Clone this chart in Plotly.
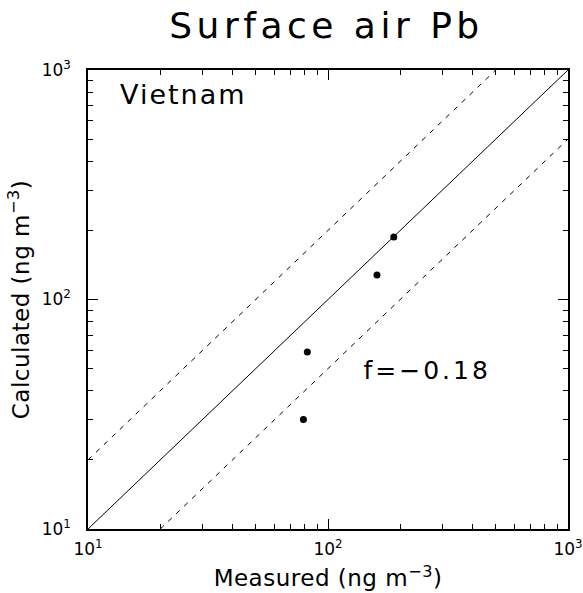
import plotly.graph_objects as go

# Measured vs calculated surface-air lead concentrations (ng m^-3), Vietnam sites
measured = [188, 160, 82, 79]
calculated = [187, 128, 59, 30]

# 1:1 reference line and factor-of-two bounds
ref_x = [10, 1000]
one_to_one = [10, 1000]
upper_x = [10, 500]
upper_y = [20, 1000]
lower_x = [20, 1000]
lower_y = [10, 500]

tick_vals = [10, 100, 1000]
tick_text = ["10<sup>1</sup>", "10<sup>2</sup>", "10<sup>3</sup>"]

font_family = "DejaVu Sans, Liberation Sans, sans-serif"

fig = go.Figure()
fig.add_trace(go.Scatter(x=ref_x, y=one_to_one, mode="lines",
                         line=dict(color="black", width=1), hoverinfo="skip"))
fig.add_trace(go.Scatter(x=upper_x, y=upper_y, mode="lines",
                         line=dict(color="black", width=1, dash="5px,6px"), hoverinfo="skip"))
fig.add_trace(go.Scatter(x=lower_x, y=lower_y, mode="lines",
                         line=dict(color="black", width=1, dash="5px,6px"), hoverinfo="skip"))
fig.add_trace(go.Scatter(x=measured, y=calculated, mode="markers",
                         marker=dict(color="black", size=7)))

axis_common = dict(
    type="log",
    range=[1, 3],
    tickvals=tick_vals,
    ticktext=tick_text,
    ticks="inside",
    ticklen=10,
    tickwidth=1,
    tickcolor="black",
    showline=True,
    linecolor="black",
    linewidth=1.5,
    mirror="allticks",
    showgrid=False,
    zeroline=False,
    automargin=False,
    tickfont=dict(family=font_family, size=17, color="black"),
    minor=dict(ticks="inside", ticklen=5, tickwidth=1, tickcolor="black",
               dtick="D1", showgrid=False),
)

fig.update_xaxes(**axis_common, ticklabelstandoff=4,
                 title=dict(text="Measured (ng m<sup>−3</sup>)", standoff=12,
                            font=dict(family=font_family, size=23, color="black")))
fig.update_yaxes(**axis_common, ticklabelstandoff=12,
                 title=dict(text="Calculated (ng m<sup>−3</sup>)", standoff=6,
                            font=dict(family=font_family, size=23, color="black")))

fig.add_annotation(x=0.077, y=0.985, xref="paper", yref="paper", text="Vietnam",
                   showarrow=False, xanchor="left", yanchor="top",
                   font=dict(family=font_family, size=27, color="black"))
fig.add_annotation(x=0.592, y=0.345, xref="paper", yref="paper", text="f=−0.18",
                   showarrow=False, xanchor="left", yanchor="middle",
                   font=dict(family=font_family, size=25, color="black"))

fig.update_layout(
    width=583,
    height=593,
    margin=dict(l=88, r=15, t=70, b=64, autoexpand=False),
    paper_bgcolor="white",
    plot_bgcolor="white",
    showlegend=False,
    title=dict(text="Surface air Pb", x=0.56, xanchor="center", y=0.958, yanchor="middle",
               font=dict(family=font_family, size=36, color="black")),
)

# widen letter spacing of the titles and annotations
spacing_js = (
    "var s=document.createElement('style');"
    "s.textContent='.gtitle{letter-spacing:4.5px}"
    ".annotation[data-index=\"0\"] .annotation-text{letter-spacing:2px}"
    ".annotation[data-index=\"1\"] .annotation-text{letter-spacing:3px}"
    ".xtitle,.ytitle{letter-spacing:0.5px}';"
    "document.head.appendChild(s);"
)

fig.write_html("out.html", post_script=spacing_js)
